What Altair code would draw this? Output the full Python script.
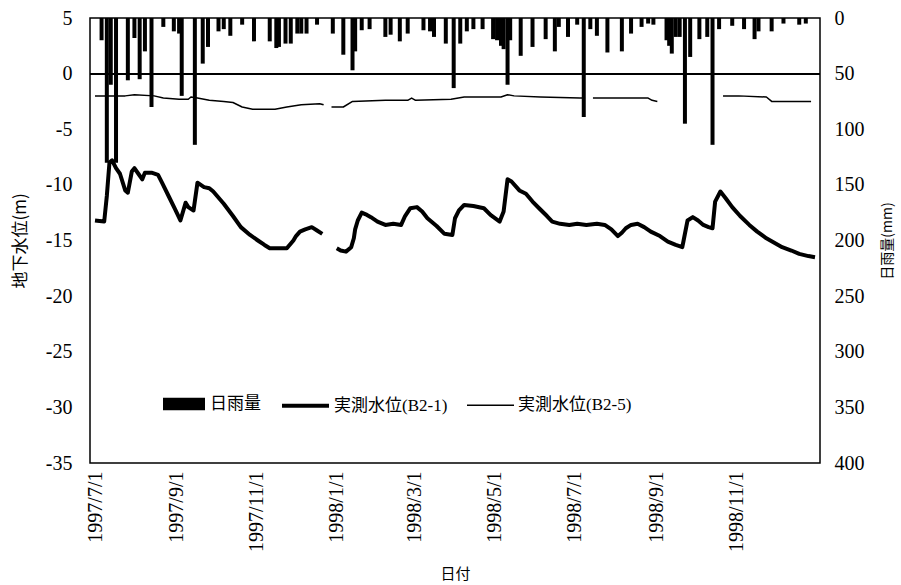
import altair as alt
import pandas as pd

# ---------------- data ----------------
rain_dates = [
    "1997-07-06", "1997-07-10", "1997-07-13", "1997-07-17", "1997-07-26", "1997-07-31",
    "1997-08-04", "1997-08-08", "1997-08-13", "1997-08-22", "1997-08-30", "1997-09-03",
    "1997-09-05", "1997-09-15", "1997-09-21", "1997-09-25", "1997-10-03", "1997-10-07",
    "1997-10-12", "1997-10-21", "1997-10-30", "1997-11-11", "1997-11-16", "1997-11-18",
    "1997-11-23", "1997-11-27", "1997-12-02", "1997-12-05", "1997-12-09", "1997-12-17",
    "1997-12-29", "1998-01-06", "1998-01-13", "1998-01-15", "1998-01-20", "1998-01-26",
    "1998-02-07", "1998-02-11", "1998-02-18", "1998-02-24", "1998-03-08", "1998-03-13",
    "1998-03-16", "1998-03-25", "1998-03-31", "1998-04-05", "1998-04-10", "1998-04-15",
    "1998-04-22", "1998-04-30", "1998-05-03", "1998-05-05", "1998-05-06", "1998-05-08",
    "1998-05-11", "1998-05-13", "1998-05-21", "1998-05-30", "1998-06-09", "1998-06-16",
    "1998-06-19", "1998-06-26", "1998-07-03", "1998-07-08", "1998-07-13", "1998-07-18",
    "1998-07-26", "1998-08-06", "1998-08-13", "1998-08-21", "1998-08-26", "1998-08-30",
    "1998-09-09", "1998-09-11", "1998-09-13", "1998-09-16", "1998-09-19", "1998-09-23",
    "1998-09-27", "1998-10-04", "1998-10-10", "1998-10-14", "1998-10-19", "1998-10-29",
    "1998-11-07", "1998-11-15", "1998-11-18", "1998-11-28", "1998-12-07", "1998-12-19",
    "1998-12-24",
]
rain_mm = [
    20, 130, 60, 130, 56, 18,
    55, 30, 80, 8, 12, 14,
    70, 114, 41, 26, 12, 10,
    16, 6, 21, 21, 27, 26,
    23, 23, 14, 14, 14, 6,
    14, 33, 47, 30, 11, 10,
    17, 15, 21, 14, 11, 12,
    17, 23, 63, 23, 12, 10,
    10, 19, 20, 15, 25, 28,
    60, 20, 34, 26, 19, 30,
    8, 17, 6, 89, 10, 16,
    31, 30, 14, 8, 5, 6,
    20, 25, 32, 17, 17, 95,
    35, 19, 17, 114, 10, 7,
    10, 19, 12, 12, 5, 6,
    5,
]

b21_dates = [
    "1997-07-01", "1997-07-08", "1997-07-10", "1997-07-12", "1997-07-14", "1997-07-17",
    "1997-07-20", "1997-07-24", "1997-07-26", "1997-07-29", "1997-07-31", "1997-08-03",
    "1997-08-06", "1997-08-08", "1997-08-13", "1997-08-18", "1997-08-21", "1997-08-26",
    "1997-08-31", "1997-09-04", "1997-09-08", "1997-09-10", "1997-09-14", "1997-09-17",
    "1997-09-22", "1997-09-26", "1997-09-29", "1997-10-07", "1997-10-14", "1997-10-20",
    "1997-10-27", "1997-11-02", "1997-11-07", "1997-11-11", "1997-11-24", "1997-11-29",
    "1997-12-01", "1997-12-04", "1997-12-08", "1997-12-13", "1997-12-17", "1997-12-21",
    "1997-12-26",
    "1998-01-01", "1998-01-04", "1998-01-08", "1998-01-12", "1998-01-14", "1998-01-15",
    "1998-01-17", "1998-01-20", "1998-01-24", "1998-01-27", "1998-02-01", "1998-02-07",
    "1998-02-13", "1998-02-19", "1998-02-22", "1998-02-26", "1998-03-03", "1998-03-07",
    "1998-03-11", "1998-03-18", "1998-03-24", "1998-03-30", "1998-04-01", "1998-04-04",
    "1998-04-08", "1998-04-15", "1998-04-23", "1998-04-28", "1998-05-05", "1998-05-08",
    "1998-05-11", "1998-05-14", "1998-05-20", "1998-05-25", "1998-05-30", "1998-06-04",
    "1998-06-10", "1998-06-14", "1998-06-20", "1998-06-27", "1998-07-03", "1998-07-10",
    "1998-07-18", "1998-07-24", "1998-07-29", "1998-08-03", "1998-08-06", "1998-08-09",
    "1998-08-13", "1998-08-18", "1998-08-23", "1998-08-28", "1998-09-04", "1998-09-10",
    "1998-09-16", "1998-09-21", "1998-09-22", "1998-09-25", "1998-09-29", "1998-10-03",
    "1998-10-07", "1998-10-11", "1998-10-14", "1998-10-16", "1998-10-20", "1998-10-24",
    "1998-10-29", "1998-11-04", "1998-11-11", "1998-11-17", "1998-11-24", "1998-11-30",
    "1998-12-06", "1998-12-13", "1998-12-19", "1998-12-26", "1998-12-31",
]
b21_level = [
    -13.2, -13.3, -11.0, -8.0, -7.8, -8.5,
    -9.0, -10.5, -10.7, -8.8, -8.5, -9.0,
    -9.5, -8.9, -8.9, -9.1, -9.8, -11.0,
    -12.2, -13.2, -11.6, -12.0, -12.3, -9.8,
    -10.2, -10.3, -10.6, -11.7, -12.8, -13.8,
    -14.5, -15.0, -15.4, -15.7, -15.7, -15.0,
    -14.6, -14.2, -14.0, -13.8, -14.1, -14.4,
    None,
    -15.7, -15.9, -16.0, -15.6, -14.8, -14.0,
    -13.2, -12.5, -12.7, -12.9, -13.3, -13.6,
    -13.5, -13.6, -12.8, -12.1, -12.0, -12.4,
    -13.0, -13.7, -14.4, -14.5, -13.0, -12.3,
    -11.8, -11.9, -12.1, -12.7, -13.3, -12.4,
    -9.5, -9.7, -10.5, -10.8, -11.5, -12.1,
    -12.8, -13.3, -13.5, -13.6, -13.5, -13.6,
    -13.5, -13.6, -14.0, -14.6, -14.3, -13.9,
    -13.6, -13.5, -13.8, -14.2, -14.6, -15.1,
    -15.4, -15.6, -15.0, -13.2, -12.9, -13.2,
    -13.6, -13.8, -13.9, -11.5, -10.6, -11.2,
    -12.0, -12.8, -13.6, -14.2, -14.8, -15.2,
    -15.6, -15.9, -16.2, -16.4, -16.5,
]

b25_dates = [
    "1997-07-01", "1997-07-24", "1997-07-31", "1997-08-15", "1997-08-22", "1997-09-03",
    "1997-09-10", "1997-09-12", "1997-09-17", "1997-09-22", "1997-09-26", "1997-10-07",
    "1997-10-14", "1997-10-21", "1997-10-29", "1997-11-15", "1997-11-24", "1997-12-05",
    "1997-12-19", "1997-12-22", "1997-12-25",
    "1997-12-28", "1998-01-06", "1998-01-13", "1998-02-07", "1998-02-24", "1998-02-27",
    "1998-03-02", "1998-03-29", "1998-04-08", "1998-05-06", "1998-05-11", "1998-05-16",
    "1998-06-05", "1998-07-05", "1998-07-09", "1998-07-12",
    "1998-07-15", "1998-08-26", "1998-08-29", "1998-09-02", "1998-09-20",
    "1998-10-22", "1998-11-03", "1998-11-24", "1998-11-28", "1998-12-28",
]
b25_level = [
    -2.0, -2.0, -1.9, -2.0, -2.2, -2.3,
    -2.3, -2.1, -2.2, -2.3, -2.4, -2.5,
    -2.6, -3.0, -3.2, -3.2, -3.0, -2.8,
    -2.7, -2.8, None,
    -3.0, -3.0, -2.5, -2.4, -2.4, -2.2,
    -2.4, -2.3, -2.1, -2.1, -1.9, -2.0,
    -2.1, -2.2, -2.2, None,
    -2.2, -2.2, -2.4, -2.5, None,
    -2.0, -2.0, -2.1, -2.5, -2.5,
]

rain_label = "日雨量"
name_b21 = "実測水位(B2-1)"
name_b25 = "実測水位(B2-5)"
tick_dates = ["1997-07-01", "1997-09-01", "1997-11-01", "1998-01-01", "1998-03-01",
              "1998-05-01", "1998-07-01", "1998-09-01", "1998-11-01"]

# ---------------- tables ----------------
rain_df = pd.DataFrame({"date": rain_dates, "rain": rain_mm, "label": rain_label})

rows = []
for name, ds, vs in [(name_b21, b21_dates, b21_level), (name_b25, b25_dates, b25_level)]:
    seg = 0
    for d, v in zip(ds, vs):
        if v is None:
            seg += 1
            continue
        rows.append({"date": d, "level": v, "series": name, "seg": f"{name}-{seg}"})
level_df = pd.DataFrame(rows)


def utc_dt(s):
    y, m, d = (int(p) for p in s.split("-"))
    return alt.DateTime(year=y, month=m, date=d, utc=True)


SERIF = "Liberation Serif, Times New Roman, serif"
MIXED = "Liberation Serif, Noto Sans CJK JP"
SANS_JP = "Noto Sans CJK JP"

x_enc = alt.X(
    "date:T",
    scale=alt.Scale(type="utc", domain=[utc_dt("1997-07-01"), utc_dt("1998-12-31")]),
    axis=alt.Axis(
        values=[utc_dt(t) for t in tick_dates],
        format="%Y/%-m/%-d",
        labelAngle=270,
        labelAlign="right",
        labelBaseline="middle",
        labelPadding=8,
        labelFont=SERIF,
        labelFontSize=20,
        labelColor="black",
        ticks=False,
        grid=False,
        domain=False,
        title="日付",
        titleFont=SANS_JP,
        titleFontSize=15,
        titleFontWeight="normal",
        titleColor="black",
        titlePadding=15,
    ),
)

rain = alt.Chart(rain_df).mark_bar(size=4, color="black").encode(
    x=x_enc,
    y=alt.Y(
        "rain:Q",
        scale=alt.Scale(domain=[0, 400], reverse=True, nice=False),
        axis=alt.Axis(
            orient="right",
            values=[0, 50, 100, 150, 200, 250, 300, 350, 400],
            labelFont=SERIF,
            labelFontSize=20,
            labelColor="black",
            labelPadding=14,
            ticks=False,
            grid=False,
            domain=False,
            title="日雨量(mm)",
            titleAngle=270,
            titleFont=SANS_JP,
            titleFontSize=14,
            titleFontWeight="normal",
            titleColor="black",
            titlePadding=30,
        ),
    ),
    color=alt.Color(
        "label:N",
        scale=alt.Scale(domain=[rain_label], range=["black"]),
        legend=alt.Legend(
            title=None,
            orient="none",
            legendX=73,
            legendY=365,
            padding=0,
            symbolType="M-1,-0.3H1V0.3H-1Z",
            symbolSize=1764,
            symbolStrokeWidth=0,
            labelFont=MIXED,
            labelFontSize=17,
            labelColor="black",
            labelOffset=5,
        ),
    ),
)

y_left = alt.Y(
    "level:Q",
    scale=alt.Scale(domain=[-35, 5], nice=False, zero=False),
    axis=alt.Axis(
        values=[5, 0, -5, -10, -15, -20, -25, -30, -35],
        labelExpr="replace(datum.label, '\u2212', '-')",
        labelFont=SERIF,
        labelFontSize=20,
        labelColor="black",
        labelPadding=18,
        ticks=False,
        grid=False,
        domain=False,
        title="地下水位(m)",
        titleFont=SANS_JP,
        titleFontSize=17,
        titleFontWeight="normal",
        titleColor="black",
        titlePadding=16,
    ),
)

zero_rule = alt.Chart(level_df).mark_rule(color="black", strokeWidth=1).encode(
    y=alt.datum(0)
)

lines = alt.Chart(level_df).mark_line(color="black", strokeJoin="round").encode(
    x=x_enc,
    y=y_left,
    detail="seg:N",
    strokeWidth=alt.StrokeWidth(
        "series:N",
        scale=alt.Scale(domain=[name_b21, name_b25], range=[4, 1.5]),
        legend=alt.Legend(
            title=None,
            orient="none",
            direction="horizontal",
            legendX=190,
            legendY=362,
            padding=0,
            symbolType="stroke",
            symbolSize=2209,
            symbolStrokeColor="black",
            labelFont=MIXED,
            labelFontSize=17,
            labelColor="black",
            labelOffset=3,
            columnPadding=16,
        ),
    ),
)

left_layer = alt.layer(zero_rule, lines)

chart = (
    alt.layer(left_layer, rain)
    .resolve_scale(y="independent")
    .properties(
        width=730,
        height=445,
        autosize=alt.AutoSizeParams(type="none"),
        padding={"left": 90, "top": 18, "right": 81, "bottom": 122},
        background="white",
    )
    .configure_view(stroke="black", strokeWidth=1.5)
)

chart.save("out.html", embed_options={"renderer": "svg", "actions": False})
